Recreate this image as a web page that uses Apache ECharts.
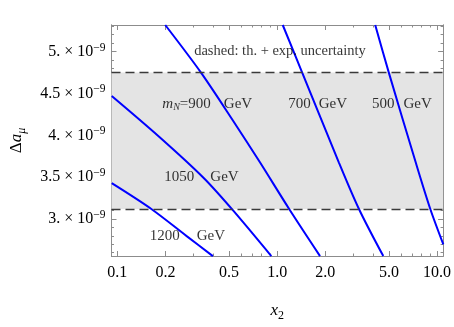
<!DOCTYPE html>
<html><head><meta charset="utf-8">
<script src="https://cdn.jsdelivr.net/npm/echarts@6/dist/echarts.min.js"></script>
<style>html,body{margin:0;padding:0;background:#fff}#c{width:454px;height:327px}</style>
</head><body><div id="c"></div>
<script>
// ---- data (x2 on log axis, Δa_μ in units of 1e-9) ----
const X_MAJOR = [0.1, 0.2, 0.5, 1, 2, 5, 10];
const X_MAJOR_LABELS = ['0.1', '0.2', '0.5', '1.0', '2.0', '5.0', '10.0'];
const X_MINOR = [0.3, 0.4, 0.6, 0.7, 0.8, 0.9, 3, 4, 6, 7, 8, 9];
const Y_MAJOR = [3, 3.5, 4, 4.5, 5];
const Y_MAJOR_LABELS = ['3.', '3.5', '4.', '4.5', '5.'];
const Y_MINOR = [2.6, 2.7, 2.8, 2.9, 3.1, 3.2, 3.3, 3.4, 3.6, 3.7, 3.8, 3.9,
                 4.1, 4.2, 4.3, 4.4, 4.6, 4.7, 4.8, 4.9, 5.1, 5.2, 5.3];
const BAND = [3.12, 4.75];

const x_m500  = [4.102, 4.99, 7.346, 9.066, 10.94];
const y_m500  = [5.316, 4.748, 3.678, 3.121, 2.698];
const x_m700  = [1.083, 1.433, 2.428, 3.245, 4.607];
const y_m700  = [5.316, 4.748, 3.678, 3.121, 2.559];
const x_m900  = [0.1995, 0.3338, 0.5248, 0.780, 1.188, 1.853];
const y_m900  = [5.316, 4.748, 4.186, 3.678, 3.121, 2.559];
const x_m1050 = [0.0923, 0.1834, 0.3446, 0.5248, 0.919];
const y_m1050 = [4.469, 3.980, 3.497, 3.113, 2.559];
const x_m1200 = [0.0923, 0.1633, 0.2716, 0.396];
const y_m1200 = [3.429, 3.121, 2.797, 2.559];

const CURVES = [[x_m500, y_m500], [x_m700, y_m700], [x_m900, y_m900], [x_m1050, y_m1050], [x_m1200, y_m1200]];
const M_N = ['500', '700', '900', '1050', '1200'];

// ---- chart ----
const XMIN = 0.092, XMAX = 10.9, YMIN = 2.56, YMAX = 5.316;
const FRAME = '#8c8c8c';
const SERIF = 'Liberation Serif';

function xAx(pos, vals, len, withLabels) {
  return {
    type: 'log', logBase: 10, min: XMIN, max: XMAX, position: pos,
    axisLine: {show: true, onZero: false, lineStyle: {color: FRAME, width: 1}},
    axisTick: {show: true, inside: true, length: len, customValues: vals, lineStyle: {color: FRAME, width: 1}},
    axisLabel: withLabels ? {
      show: true, customValues: vals, margin: 9, fontFamily: SERIF, fontSize: 16, color: '#000',
      formatter: v => { const i = X_MAJOR.findIndex(t => Math.abs(t - v) < 1e-9 * Math.max(1, v)); return i >= 0 ? X_MAJOR_LABELS[i] : ''; }
    } : {show: false},
    splitLine: {show: false}, minorTick: {show: false}, minorSplitLine: {show: false},
    name: withLabels ? '{x|x}{s|2}' : '', nameLocation: 'middle', nameGap: 44,
    nameTextStyle: {rich: {
      x: {fontFamily: SERIF, fontStyle: 'italic', fontSize: 17, color: '#000', lineHeight: 22},
      s: {fontFamily: SERIF, fontSize: 12, color: '#000', lineHeight: 12, verticalAlign: 'bottom'}
    }}
  };
}
function yAx(pos, vals, len, withLabels) {
  return {
    type: 'value', min: YMIN, max: YMAX, position: pos,
    axisLine: {show: true, onZero: false, lineStyle: {color: FRAME, width: 1}},
    axisTick: {show: true, inside: true, length: len, customValues: vals, lineStyle: {color: FRAME, width: 1}},
    axisLabel: withLabels ? {
      show: true, customValues: vals, margin: 6,
      formatter: v => { const i = Y_MAJOR.findIndex(t => Math.abs(t - v) < 1e-6); return i >= 0 ? '{m|' + Y_MAJOR_LABELS[i] + ' × 10}{s|−9}' : ''; },
      rich: {
        m: {fontFamily: SERIF, fontSize: 16, color: '#000', lineHeight: 20},
        s: {fontFamily: SERIF, fontSize: 11.5, color: '#000', lineHeight: 11, verticalAlign: 'top'}
      }
    } : {show: false},
    splitLine: {show: false}, minorTick: {show: false}, minorSplitLine: {show: false},
    name: withLabels ? '{d|Δ}{a|a}{u|μ}' : '', nameLocation: 'middle', nameRotate: 90, nameGap: 84,
    nameTextStyle: {rich: {
      d: {fontFamily: SERIF, fontSize: 17, color: '#000', lineHeight: 22},
      a: {fontFamily: SERIF, fontStyle: 'italic', fontSize: 17, color: '#000', lineHeight: 22},
      u: {fontFamily: SERIF, fontStyle: 'italic', fontSize: 12, color: '#000', lineHeight: 12, verticalAlign: 'bottom'}
    }}
  };
}

const ANN_STYLE = {
  t: {fontFamily: SERIF, fontSize: 15, color: '#000', lineHeight: 18},
  i: {fontFamily: SERIF, fontStyle: 'italic', fontSize: 15, color: '#000', lineHeight: 18},
  sub: {fontFamily: SERIF, fontStyle: 'italic', fontSize: 10, color: '#000', lineHeight: 10, verticalAlign: 'bottom'},
  g9: {fontFamily: SERIF, fontSize: 15, color: '#000', lineHeight: 18, padding: [0, 0, 0, 13]},
  g7: {fontFamily: SERIF, fontSize: 15, color: '#000', lineHeight: 18, padding: [0, 0, 0, 8]},
  g5: {fontFamily: SERIF, fontSize: 15, color: '#000', lineHeight: 18, padding: [0, 0, 0, 9]},
  g10: {fontFamily: SERIF, fontSize: 15, color: '#000', lineHeight: 18, padding: [0, 0, 0, 16]},
  g12: {fontFamily: SERIF, fontSize: 15, color: '#000', lineHeight: 18, padding: [0, 0, 0, 17]},
  d: {fontFamily: SERIF, fontSize: 14.5, color: '#000', lineHeight: 18}
};
const annotations = [
  {pos: [0.3026, 5.0],   text: '{d|dashed: th. + exp. uncertainty}'},
  {pos: [0.1913, 4.378], text: '{i|m}{sub|N}{t|=' + M_N[2] + '}{g9|GeV}'},
  {pos: [1.172, 4.378],  text: '{t|' + M_N[1] + '}{g7|GeV}'},
  {pos: [3.910, 4.378],  text: '{t|' + M_N[0] + '}{g5|GeV}'},
  {pos: [0.1968, 3.497], text: '{t|' + M_N[3] + '}{g10|GeV}'},
  {pos: [0.1595, 2.797], text: '{t|' + M_N[4] + '}{g12|GeV}'}
];

const series = [];
series.push({
  type: 'line', xAxisIndex: 0, yAxisIndex: 0, data: [], z: 1, silent: true,
  markArea: {silent: true, itemStyle: {color: '#e4e4e4'}, data: [[{yAxis: BAND[0]}, {yAxis: BAND[1]}]]},
  markLine: {silent: true, symbol: ['none', 'none'], label: {show: false},
    lineStyle: {color: '#3a3a3a', width: 1.3, type: [9, 5]},
    data: [{yAxis: BAND[0]}, {yAxis: BAND[1]}]}
});
CURVES.forEach(([xs, ys]) => {
  series.push({
    type: 'line', xAxisIndex: 0, yAxisIndex: 0, showSymbol: false, smooth: 0.3, clip: true, z: 3,
    lineStyle: {color: '#0000ff', width: 2}, itemStyle: {color: '#0000ff'},
    data: xs.map((x, i) => [x, ys[i]])
  });
});
series.push({
  type: 'scatter', xAxisIndex: 0, yAxisIndex: 0, symbolSize: 0, z: 4, silent: true,
  data: annotations.map(a => ({value: a.pos, label: {show: true, position: 'right', distance: 0, formatter: a.text, rich: ANN_STYLE}}))
});

const chart = echarts.init(document.getElementById('c'), null, {renderer: 'canvas'});
chart.setOption({
  animation: false,
  backgroundColor: '#fff',
  grid: {left: 106, right: 7, top: 25, bottom: 58, containLabel: false},
  xAxis: [xAx('bottom', X_MAJOR, 5, true), xAx('bottom', X_MINOR, 2.5, false), xAx('top', X_MAJOR, 5, false), xAx('top', X_MINOR, 2.5, false)],
  yAxis: [yAx('left', Y_MAJOR, 5, true), yAx('left', Y_MINOR, 2.5, false), yAx('right', Y_MAJOR, 5, false), yAx('right', Y_MINOR, 2.5, false)],
  series: series
});
</script></body></html>
